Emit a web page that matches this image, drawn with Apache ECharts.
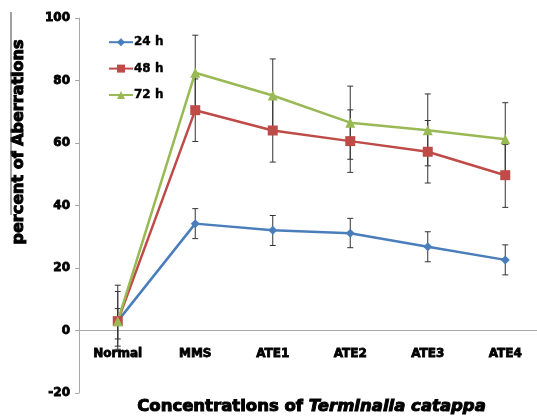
<!DOCTYPE html>
<html>
<head>
<meta charset="utf-8">
<script src="https://cdn.jsdelivr.net/npm/echarts@6/dist/echarts.min.js"></script>
<style>
  html, body { margin: 0; padding: 0; background: #fff; }
  #chart { width: 537px; height: 418px; }
</style>
</head>
<body>
<div id="chart"></div>
<script>
// values
const categories = ['Normal', 'MMS', 'ATE1', 'ATE2', 'ATE3', 'ATE4'];
const yTicks = [-20, 0, 20, 40, 60, 80, 100];

const h24 = [3, 34.2, 32.1, 31.1, 26.8, 22.6];
const h24Low = [-2.7, 29.4, 27.2, 26.5, 22, 17.8];
const h24High = [7, 39, 36.8, 35.9, 31.6, 27.4];

const h48 = [3, 70.5, 64, 60.6, 57.2, 49.7];
const h48Low = [-5, 60.5, 53.9, 50.6, 47.2, 39.4];
const h48High = [12.5, 80.5, 74.1, 70.6, 67.2, 59.5];

const h72 = [3, 82.5, 75.2, 66.5, 64.1, 61.2];
const h72Low = [-6, 70.5, 63.5, 54.8, 52.7, 49.5];
const h72High = [14.5, 94.5, 86.9, 78.2, 75.7, 72.9];

const font = 'DejaVu Sans, Liberation Sans, sans-serif';

function errorData(low, high) {
    return categories.map((c, i) => [i, low[i], high[i]]);
}

function renderError(params, api) {
    const x = api.value(0);
    const lo = api.coord([x, api.value(1)]);
    const hi = api.coord([x, api.value(2)]);
    const cap = 3;
    const style = { stroke: '#333', lineWidth: 1 };
    return {
        type: 'group',
        children: [
            { type: 'line', shape: { x1: lo[0], y1: lo[1], x2: hi[0], y2: hi[1] }, style: style },
            { type: 'line', shape: { x1: hi[0] - cap, y1: hi[1], x2: hi[0] + cap, y2: hi[1] }, style: style },
            { type: 'line', shape: { x1: lo[0] - cap, y1: lo[1], x2: lo[0] + cap, y2: lo[1] }, style: style }
        ]
    };
}

function lineSeries(name, data, color, symbol, size) {
    return {
        name: name,
        type: 'line',
        data: data,
        symbol: symbol,
        symbolSize: size,
        z: 3,
        lineStyle: { color: color, width: 2.5 },
        itemStyle: { color: color }
    };
}

function errorSeries(low, high) {
    return {
        type: 'custom',
        data: errorData(low, high),
        renderItem: renderError,
        z: 2,
        silent: true
    };
}

const chart = echarts.init(document.getElementById('chart'));

const option = {
    animation: false,
    backgroundColor: '#fff',
    grid: { left: 79, right: -7, top: 18, bottom: 25, outerBoundsMode: 'none', containLabel: false },
    legend: {
        orient: 'vertical',
        left: 103,
        top: 31,
        itemWidth: 24,
        itemHeight: 10,
        itemGap: 14,
        data: ['24 h', '48 h', '72 h'],
        textStyle: {
            fontFamily: font, fontWeight: 'bold', fontSize: 12, color: '#000',
            textBorderColor: '#000', textBorderWidth: 0.4, padding: [0, 0, 0, -4]
        }
    },
    xAxis: {
        type: 'category',
        data: categories,
        offset: -62.5,
        axisLine: { onZero: false, lineStyle: { color: '#a8a8a8', width: 1 } },
        axisTick: { show: false },
        axisLabel: {
            margin: 17,
            fontFamily: font, fontWeight: 'bold', fontSize: 12, color: '#000',
            textBorderColor: '#000', textBorderWidth: 0.8
        },
        name: '{a|Concentrations of }{b|Terminalia catappa}',
        nameLocation: 'middle',
        nameGap: 68,
        nameTextStyle: {
            rich: {
                a: { fontFamily: font, fontWeight: 'bold', fontSize: 16.5, color: '#000', textBorderColor: '#000', textBorderWidth: 1 },
                b: { fontFamily: font, fontWeight: 'bold', fontStyle: 'italic', fontSize: 16.5, color: '#000', textBorderColor: '#000', textBorderWidth: 1 }
            }
        }
    },
    yAxis: {
        type: 'value',
        min: yTicks[0],
        max: yTicks[yTicks.length - 1],
        interval: 20,
        splitLine: { show: false },
        axisLine: { show: true, onZero: false, lineStyle: { color: '#a8a8a8', width: 1 } },
        axisTick: { show: true, length: 4, lineStyle: { color: '#a8a8a8' } },
        axisLabel: {
            margin: 9,
            fontFamily: font, fontWeight: 'bold', fontSize: 12, color: '#000',
            textBorderColor: '#000', textBorderWidth: 0.8
        }
    },
    graphic: [
        {
            type: 'text',
            x: 19,
            y: 142,
            rotation: Math.PI / 2,
            style: {
                text: 'percent of Aberrations',
                fontFamily: font, fontWeight: 'bold', fontSize: 16, fill: '#000',
                stroke: '#000', lineWidth: 1,
                align: 'center', verticalAlign: 'middle'
            }
        },
        {
            type: 'line',
            shape: { x1: 11, y1: 12, x2: 11, y2: 215 },
            style: { stroke: '#444', lineWidth: 1 }
        }
    ],
    series: [
        errorSeries(h24Low, h24High),
        errorSeries(h48Low, h48High),
        errorSeries(h72Low, h72High),
        lineSeries('24 h', h24, '#4a7ebb', 'diamond', 9),
        lineSeries('48 h', h48, '#be4b48', 'rect', 10),
        lineSeries('72 h', h72, '#98b954', 'triangle', 10)
    ]
};

chart.setOption(option);
</script>
</body>
</html>
